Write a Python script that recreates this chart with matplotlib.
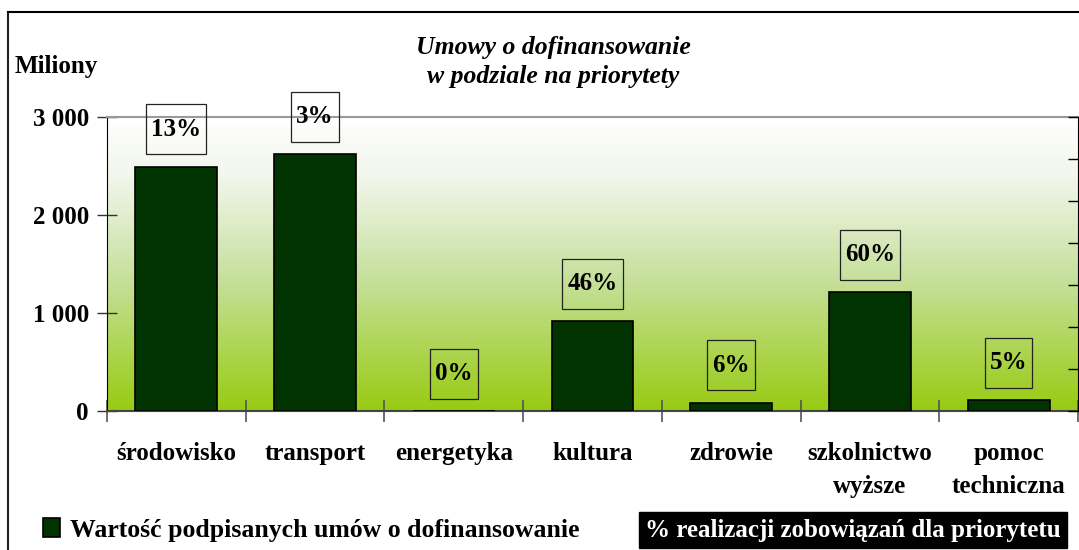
import numpy as np
from matplotlib import pyplot as plt
from matplotlib.colors import LinearSegmentedColormap
from matplotlib.lines import Line2D
from matplotlib.patches import Rectangle
from matplotlib.transforms import IdentityTransform

# dane
kategorie = ['środowisko', 'transport', 'energetyka', 'kultura', 'zdrowie',
             'szkolnictwo\nwyższe', 'pomoc\ntechniczna']
wartosc = [2490, 2622, 0, 918, 82, 1214, 112]   # mln
realizacja = ['13%', '3%', '0%', '46%', '6%', '60%', '5%']

plt.rcParams['font.family'] = ['Liberation Serif', 'DejaVu Serif']
plt.rcParams['font.weight'] = 'bold'

W, H = 1079, 550
fig = plt.figure(figsize=(W / 100, H / 100), dpi=100)
ax = fig.add_axes([107 / W, 1 - 411 / H, 971 / W, 294 / H])

# tlo - gradient
cmap = LinearSegmentedColormap.from_list('tlo', [(0, '#98cb12'), (0.45, '#c6e09c'),
                                                  (0.8, '#f2f6ec'), (1, '#ffffff')])
grad = np.linspace(1, 0, 256).reshape(-1, 1)
ax.imshow(grad, extent=[0, 1, 0, 1], transform=ax.transAxes, aspect='auto',
          cmap=cmap, zorder=0)

x = np.arange(len(kategorie))
bars = ax.bar(x, wartosc, width=0.59, color='#003300', edgecolor='black',
              linewidth=1.2, zorder=3, label='Wartość podpisanych umów o dofinansowanie')

etykiety = []
for xi, v, t in zip(x, wartosc, realizacja):
    etykiety.append(ax.annotate(t, (xi, v), xytext=(0, 27), textcoords='offset points',
                                ha='center', va='center', fontsize=18, fontweight='bold',
                                zorder=4))

ax.set_xlim(-0.5, len(kategorie) - 0.5)
ax.set_ylim(0, 3000)
ax.set_yticks([0, 1000, 2000, 3000])
ax.set_yticklabels(['0', '1 000', '2 000', '3 000'], fontsize=18, fontweight='bold')
ax.tick_params(axis='y', direction='inout', length=14, width=1, color='#333333', pad=6)

ax.set_xticks(x)
ax.set_xticklabels(kategorie, fontsize=18, fontweight='bold', linespacing=1.6)
ax.set_xticks(np.arange(-0.5, len(kategorie)), minor=True)
ax.tick_params(axis='x', which='major', length=0, pad=22)
ax.tick_params(axis='x', which='minor', direction='inout', length=16, width=1.2, color='#555555')

ax.spines['left'].set_color('black')
ax.spines['bottom'].set_color('#444444')
ax.spines['bottom'].set_linewidth(1.5)
ax.spines['top'].set_color('#999999')
ax.spines['top'].set_linewidth(1.5)
ax.spines['right'].set_visible(False)

ax2 = ax.twinx()
ax2.set_ylim(0, 0.7)
ax2.set_yticks(np.arange(0, 0.71, 0.1))
ax2.tick_params(axis='y', direction='in', length=7, width=1, color='black', labelright=False)
for s in ['left', 'top', 'bottom']:
    ax2.spines[s].set_visible(False)
ax2.spines['right'].set_color('black')

fig.text(15 / W, 1 - 66 / H, 'Miliony', fontsize=18, fontweight='bold', va='center')
fig.text(553 / W, 1 - 62 / H, 'Umowy o dofinansowanie\nw podziale na priorytety',
         fontsize=18.5, fontweight='bold', style='italic', ha='center', va='center',
         linespacing=1.35)

# ramka wykresu
fig.add_artist(Line2D([8 / W, 8 / W], [0, 1 - 12 / H], color='#222222', lw=1.5))
fig.add_artist(Line2D([8 / W, 1], [1 - 12 / H, 1 - 12 / H], color='black', lw=1.5))

# legenda
fig.legend(handles=[bars], loc='center left', bbox_to_anchor=(43 / W, 1 - 530 / H),
           frameon=False, handlelength=0.65, handleheight=0.75, borderpad=0,
           borderaxespad=0, handletextpad=0.4, prop={'weight': 'bold', 'size': 18.5})
fig.text(645 / W, 1 - 530 / H, '% realizacji zobowiązań dla priorytetu', color='white',
         fontsize=18, fontweight='bold', va='center',
         bbox=dict(boxstyle='square,pad=0.25', fc='black', ec='black'))

# ramki etykiet procentowych (stala wysokosc, szerokosc wg tekstu)
fig.canvas.draw()
for et in etykiety:
    bb = et.get_window_extent()
    cx, cy = (bb.x0 + bb.x1) / 2, (bb.y0 + bb.y1) / 2
    w = bb.width + 10
    fig.add_artist(Rectangle((cx - w / 2, cy - 25), w, 50, transform=IdentityTransform(),
                             fill=False, ec='#222222', lw=0.9, zorder=5))

fig.savefig('out.png', dpi=100)
